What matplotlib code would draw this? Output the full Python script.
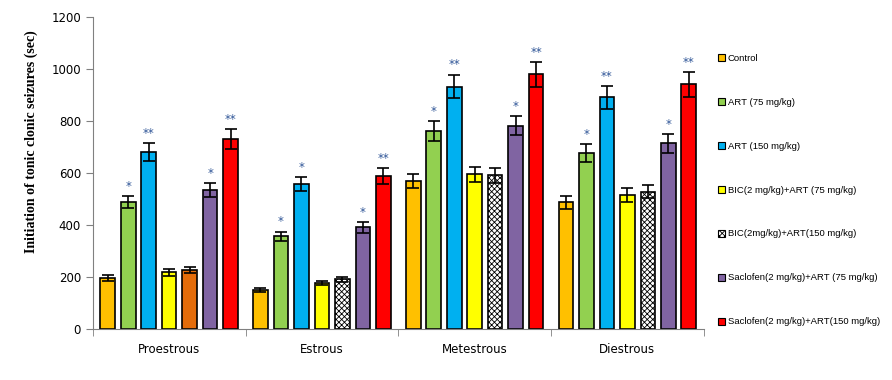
import numpy as np
from matplotlib import pyplot as plt

phases = ['Proestrous', 'Estrous', 'Metestrous', 'Diestrous']
groups = ['Control', 'ART (75 mg/kg)', 'ART (150 mg/kg)', 'BIC(2 mg/kg)+ART (75 mg/kg)',
          'BIC(2mg/kg)+ART(150 mg/kg)', 'Saclofen(2 mg/kg)+ART (75 mg/kg)',
          'Saclofen(2 mg/kg)+ART(150 mg/kg)']

# rows = groups, cols = phases
means = [
    [196, 150, 568, 487],
    [488, 357, 762, 676],
    [681, 557, 933, 891],
    [219, 176, 595, 514],
    [227, 191, 591, 529],
    [535, 391, 783, 714],
    [731, 588, 980, 941],
]
errs = [
    [11, 8, 27, 25],
    [23, 18, 37, 35],
    [33, 27, 46, 44],
    [13, 8, 29, 27],
    [12, 10, 29, 26],
    [27, 21, 38, 37],
    [37, 31, 47, 47],
]
stars = [
    ['', '', '', ''],
    ['*', '*', '*', '*'],
    ['**', '*', '**', '**'],
    ['', '', '', ''],
    ['', '', '', ''],
    ['*', '*', '*', '*'],
    ['**', '**', '**', '**'],
]

colors = ['#FFC000', '#92D050', '#00B0F0', '#FFFF00', 'white', '#8064A2', '#FF0000']
star_color = '#2F5597'

plt.rcParams['hatch.linewidth'] = 0.6
fig = plt.figure(figsize=(8.92, 3.8), dpi=100)
ax = fig.add_axes([0.104, 0.134, 0.685, 0.821])

x = np.arange(len(phases))
slot = 0.134
width = 0.096
handles = []
for j in range(len(groups)):
    xs = x + (j - 3) * slot
    fc = [colors[j]] * len(phases)
    if j == 4:
        fc[0] = '#E46C0A'
    bars = ax.bar(xs, means[j], width, color=fc, edgecolor='black', linewidth=1.2,
                  yerr=errs[j], capsize=4, error_kw=dict(elinewidth=1.2, capthick=1.2, ecolor='black'),
                  label=groups[j], zorder=2)
    if j == 4:
        for b in bars[1:]:
            b.set_hatch('xxxxxx')
    handles.append(bars[1] if j == 4 else bars[0])
    for i in range(len(phases)):
        if stars[j][i]:
            ax.text(xs[i], means[j][i] + errs[j][i] + 12, stars[j][i], ha='center', va='bottom',
                    fontsize=8.5, color=star_color)

ax.set_xlim(-0.5, 3.5)
ax.set_ylim(0, 1200)
ax.set_yticks(range(0, 1201, 200))
ax.tick_params(axis='y', labelsize=8.5, color='#808080', length=5)
ax.set_xticks(x)
ax.set_xticklabels(phases, fontsize=8.5)
ax.tick_params(axis='x', length=0, pad=10)
ax.set_xticks(np.arange(-0.5, 3.6, 1), minor=True)
ax.tick_params(axis='x', which='minor', length=5, color='#808080')
for s in ['top', 'right']:
    ax.spines[s].set_visible(False)
for s in ['left', 'bottom']:
    ax.spines[s].set_color('#808080')
ax.set_ylabel('Initiation of tonic clonic seizures (sec)', fontsize=10, fontweight='bold',
              family='Liberation Serif')
ax.yaxis.set_label_coords(-0.09, 0.6)

leg = fig.legend(handles, groups, loc='upper left', bbox_to_anchor=(0.795, 0.881), frameon=False,
                 prop={'family': 'Liberation Sans', 'size': 6.8}, handlelength=0.75, handleheight=0.75,
                 handletextpad=0.3, labelspacing=3.7)
for h in leg.legend_handles:
    h.set_linewidth(0.8)

plt.savefig('out.png')
